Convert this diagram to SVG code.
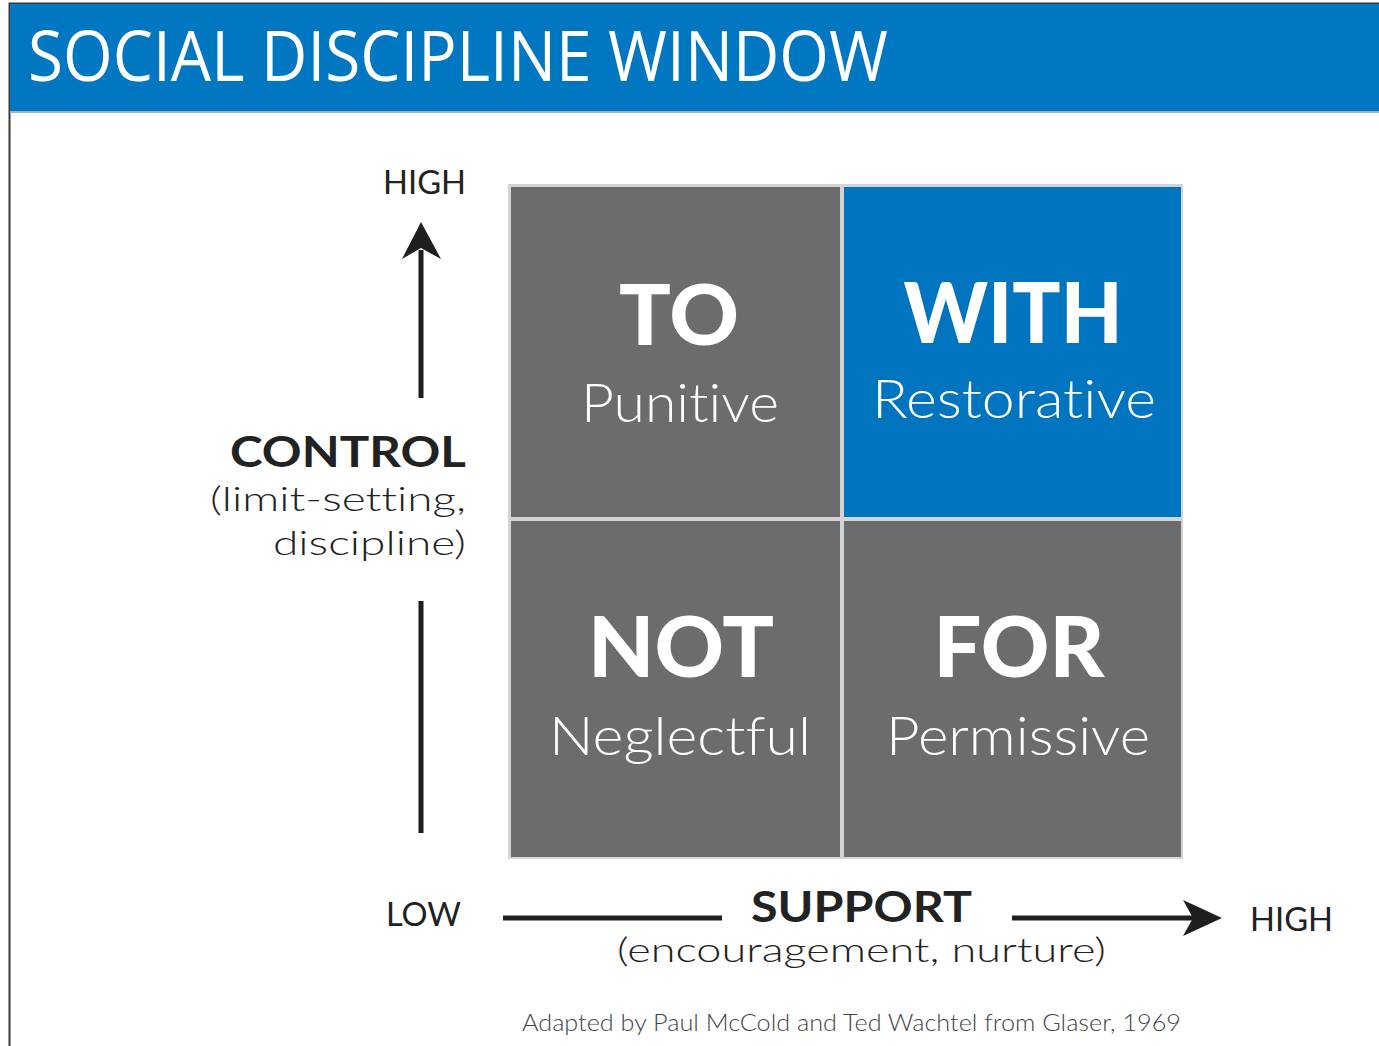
<svg xmlns="http://www.w3.org/2000/svg" width="1379" height="1046" viewBox="0 0 1379 1046">
  <defs>
    <style>
      text { font-variant-ligatures: none; font-feature-settings: "liga" 0, "clig" 0; }
      .hdr { font-family: "Open Sans", "Noto Sans", sans-serif; fill: #ffffff; font-size: 70px; }
      .big { font-family: Lato, "Open Sans", sans-serif; font-weight: 900; fill: #ffffff; font-size: 84px; text-anchor: middle; }
      .sub { font-family: Lato, "Open Sans", sans-serif; font-weight: 300; fill: #ffffff; font-size: 54px; text-anchor: middle; }
      .axis { font-family: Lato, "Open Sans", sans-serif; fill: #222222; }
      .lbl { font-size: 32px; }
      .ttl { font-size: 42px; font-weight: bold; }
      .par { font-size: 34px; font-weight: 300; }
      .note { font-family: Lato, "Open Sans", sans-serif; font-weight: 300; fill: #444444; font-size: 23px; }
      .gray { fill: #6b6c6e; }
      .blue { fill: #0074bf; }
      .axisline { stroke: #1f1f1f; stroke-width: 5; fill: none; }
    </style>
  </defs>

  <rect x="0" y="0" width="1379" height="1046" fill="#ffffff"/>
  <!-- frame -->
  <path d="M9.5 1046 V3.5 H1379" stroke="#3a3a3a" stroke-width="2" fill="none"/>

  <!-- title bar -->
  <g id="header">
    <rect x="10" y="4" width="1369" height="108" fill="#0077c0"/>
    <rect x="10" y="111" width="1369" height="2" fill="#8fb7d4"/>
    <text class="hdr" x="28" y="81" textLength="860" lengthAdjust="spacingAndGlyphs">SOCIAL DISCIPLINE WINDOW</text>
  </g>

  <!-- grid backing -->
  <rect x="508" y="184" width="675" height="675" fill="#d4d4d4"/>

  <g id="cell-to">
    <rect class="gray" x="511" y="187" width="329" height="330"/>
    <text class="big" x="679" y="345" textLength="120" lengthAdjust="spacingAndGlyphs">TO</text>
    <text class="sub" x="680" y="422" textLength="198" lengthAdjust="spacingAndGlyphs">Punitive</text>
  </g>

  <g id="cell-with">
    <rect class="blue" x="844" y="187" width="337" height="330"/>
    <text class="big" x="1013" y="343" textLength="219" lengthAdjust="spacingAndGlyphs">WITH</text>
    <text class="sub" x="1014" y="418" textLength="284" lengthAdjust="spacingAndGlyphs">Restorative</text>
  </g>

  <g id="cell-not">
    <rect class="gray" x="511" y="521" width="329" height="336"/>
    <text class="big" x="681" y="677" textLength="186" lengthAdjust="spacingAndGlyphs">NOT</text>
    <text class="sub" x="680" y="755" textLength="262" lengthAdjust="spacingAndGlyphs">Neglectful</text>
  </g>

  <g id="cell-for">
    <rect class="gray" x="844" y="521" width="337" height="336"/>
    <text class="big" x="1019" y="677" textLength="171" lengthAdjust="spacingAndGlyphs">FOR</text>
    <text class="sub" x="1018" y="755" textLength="264" lengthAdjust="spacingAndGlyphs">Permissive</text>
  </g>

  <!-- axes -->
  <g id="connectors">
    <line class="axisline" x1="421" y1="398" x2="421" y2="250"/>
    <path d="M421 222 L441 259 L421 248 L402 259 Z" fill="#1f1f1f"/>
    <line class="axisline" x1="421" y1="601" x2="421" y2="833"/>
    <line class="axisline" x1="503" y1="918" x2="722" y2="918"/>
    <line class="axisline" x1="1012" y1="918" x2="1196" y2="918"/>
    <path d="M1222 918 L1183 900 L1193 918 L1183 936 Z" fill="#1f1f1f"/>
  </g>

  <g id="control-label">
    <text class="axis lbl" x="383" y="194" textLength="83" lengthAdjust="spacingAndGlyphs">HIGH</text>
    <text class="axis ttl" x="466" y="467" text-anchor="end" textLength="236" lengthAdjust="spacingAndGlyphs">CONTROL</text>
    <text class="axis par" x="466" y="511" text-anchor="end" textLength="256" lengthAdjust="spacingAndGlyphs">(limit-setting,</text>
    <text class="axis par" x="466" y="555" text-anchor="end" textLength="193" lengthAdjust="spacingAndGlyphs">discipline)</text>
  </g>

  <g id="support-label">
    <text class="axis lbl" x="386" y="926" textLength="75" lengthAdjust="spacingAndGlyphs">LOW</text>
    <text class="axis ttl" x="751" y="922" textLength="221" lengthAdjust="spacingAndGlyphs">SUPPORT</text>
    <text class="axis par" x="617" y="962" textLength="489" lengthAdjust="spacingAndGlyphs">(encouragement, nurture)</text>
    <text class="axis lbl" x="1250" y="931" textLength="83" lengthAdjust="spacingAndGlyphs">HIGH</text>
  </g>

  <text class="note" x="522" y="1031" textLength="659" lengthAdjust="spacingAndGlyphs">Adapted by Paul McCold and Ted Wachtel from Glaser, 1969</text>
</svg>
